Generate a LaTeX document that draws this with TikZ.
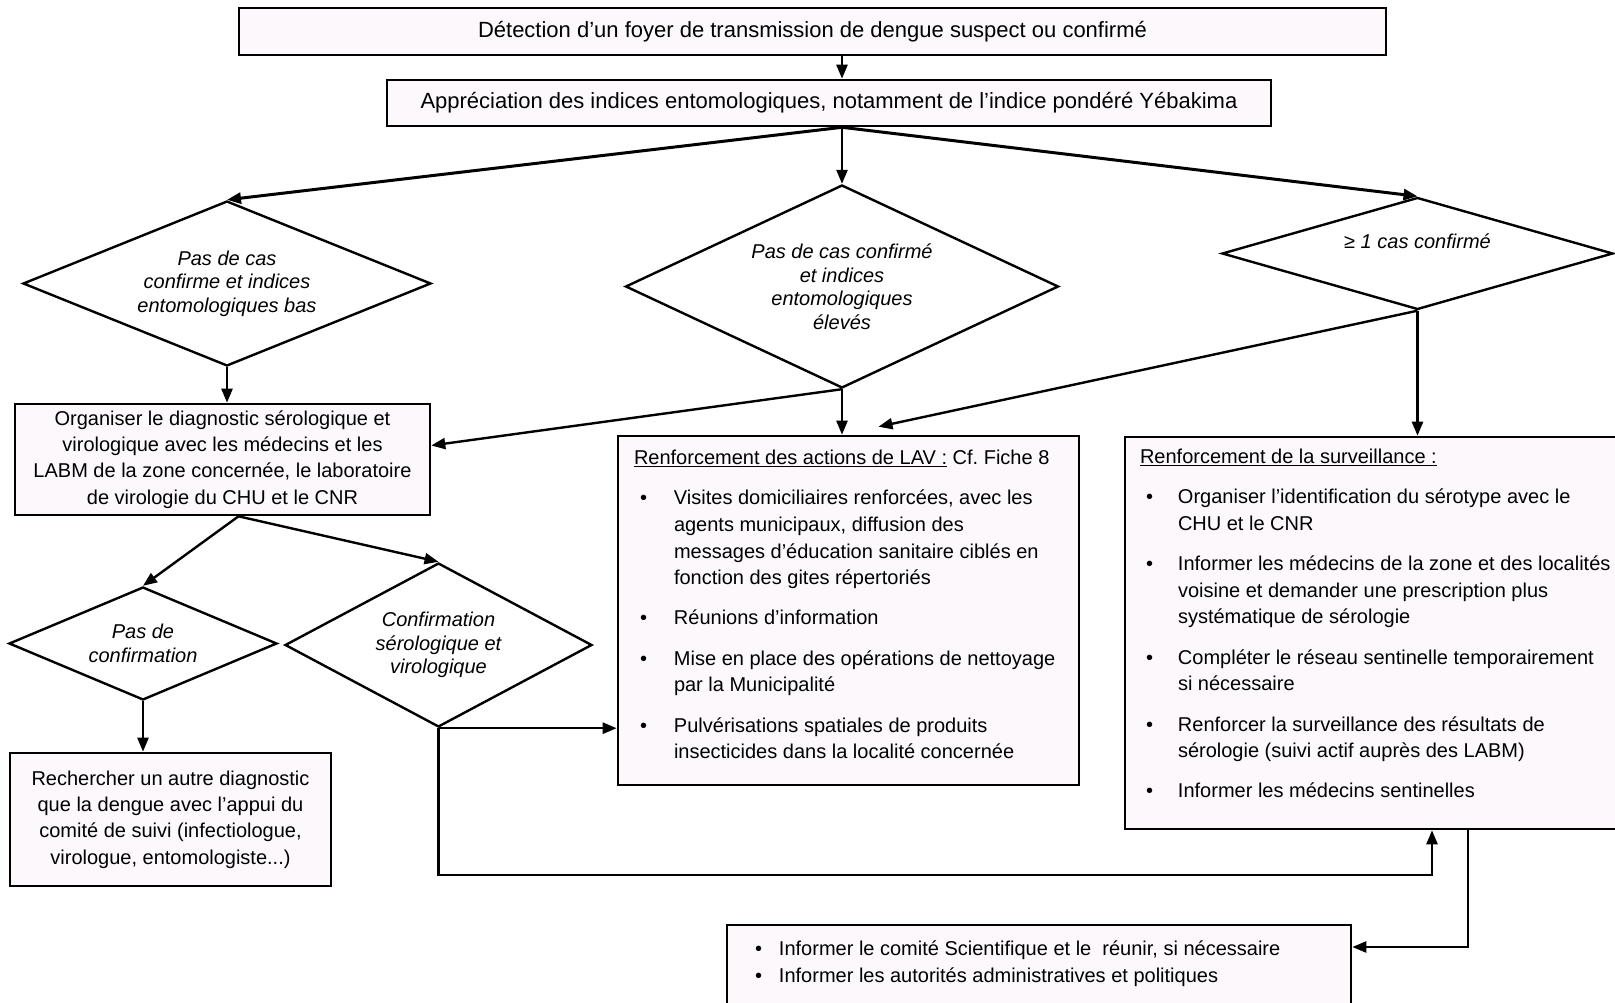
\documentclass[tikz,border=0pt]{standalone}
\usepackage{fontspec}
\setmainfont{Liberation Sans}
\usetikzlibrary{shapes.geometric,arrows.meta}
\definecolor{fondcadre}{RGB}{252,248,252}
% puce avec retrait
\newcommand{\puce}[2][40pt]{\hangindent=#1\hangafter=1\noindent\makebox[#1][l]{\hspace{6pt}\textbullet}#2\par}

\begin{document}
\begin{tikzpicture}[x=1pt, y=-1pt,
	cadre/.style={draw, line width=2.6pt, fill=fondcadre, inner sep=0pt, align=center,
		font=\fontsize{20pt}{26.3pt}\selectfont},
	losange/.style={diamond, aspect=2, draw, line width=2.4pt, fill=white, inner sep=0pt,
		align=center, font=\fontsize{20pt}{23.5pt}\selectfont\itshape},
	fleche/.style={line width=2.4pt, -{Triangle[length=14pt,width=11pt]}},
	trait/.style={line width=2.4pt}]
	\useasboundingbox (0,0) rectangle (1615,1003);

	% Haut
	\node[cadre, minimum width=1147pt, minimum height=47pt, font=\fontsize{22pt}{26pt}\selectfont]
		(detection) at (812.5,31.5) {Détection d'un foyer de transmission de dengue suspect ou confirmé};
	\node[cadre, minimum width=884pt, minimum height=46pt, font=\fontsize{22pt}{26pt}\selectfont]
		(indices) at (829,103) {Appréciation des indices entomologiques, notamment de l'indice pondéré Yébakima};

	% Losanges
	\node[losange, minimum width=408pt, minimum height=165pt] (bas) at (227,283.5)
		{Pas de cas\\ confirme et indices\\ entomologiques bas};
	\node[losange, minimum width=433pt, minimum height=203pt] (eleves) at (842,286.5)
		{Pas de cas confirmé\\ et indices\\ entomologiques\\ élevés};
	\node[losange, minimum width=391pt, minimum height=111pt, text depth=24pt] (confirme) at (1417.5,253.5)
		{≥ 1 cas confirmé};

	% Diagnostic
	\node[cadre, minimum width=415pt, minimum height=111pt] (diag) at (222.5,459.5)
		{Organiser le diagnostic sérologique et\\ virologique avec les médecins et les\\
		LABM de la zone concernée, le laboratoire\\ de virologie du CHU et le CNR};
	\node[losange, minimum width=268pt, minimum height=113pt] (pasconf) at (143,643.5)
		{Pas de\\ confirmation};
	\node[losange, minimum width=307pt, minimum height=164pt] (conf) at (438.5,645)
		{Confirmation\\ sérologique et\\ virologique};
	\node[cadre, minimum width=321pt, minimum height=133pt] (autre) at (170.5,819.5)
		{Rechercher un autre diagnostic\\ que la dengue avec l'appui du\\
		comité de suivi (infectiologue,\\ virologue, entomologiste...)};

	% LAV
	\node[cadre, inner xsep=16pt, inner ysep=14pt] (lav) at (848.5,610.5) {%
		\begin{minipage}[c][321pt][t]{429pt}
		\fontsize{20pt}{26.7pt}\selectfont\setlength{\parskip}{13.5pt}\raggedright
		\underline{Renforcement des actions de LAV :} Cf.\ Fiche 8\par
		\puce{Visites domiciliaires renforcées, avec les\newline agents municipaux, diffusion des\newline
			messages d'éducation sanitaire ciblés en\newline fonction des gites répertoriés}
		\puce{Réunions d'information}
		\puce{Mise en place des opérations de nettoyage\newline par la Municipalité}
		\puce{Pulvérisations spatiales de produits\newline insecticides dans la localité concernée}
		\end{minipage}};

	% Surveillance
	\node[cadre, inner xsep=15pt, inner ysep=12pt] (surv) at (1382.5,633) {%
		\begin{minipage}[c][368pt][t]{485pt}
		\fontsize{20pt}{26.7pt}\selectfont\setlength{\parskip}{13.5pt}\raggedright
		\underline{Renforcement de la surveillance :}\par
		\puce[38pt]{Organiser l'identification du sérotype avec le\newline CHU et le CNR}
		\puce[38pt]{Informer les médecins de la zone et des localités\newline voisine et demander une prescription plus\newline
			systématique de sérologie}
		\puce[38pt]{Compléter le réseau sentinelle temporairement\newline si nécessaire}
		\puce[38pt]{Renforcer la surveillance des résultats de\newline sérologie (suivi actif auprès des LABM)}
		\puce[38pt]{Informer les médecins sentinelles}
		\end{minipage}};

	% Comite
	\node[cadre, inner xsep=22pt, inner ysep=16pt] (comite) at (1039,970) {%
		\begin{minipage}[c][58pt][t]{580pt}
		\fontsize{20pt}{27pt}\selectfont\raggedright
		\puce[30pt]{Informer le comité Scientifique et le~ réunir, si nécessaire}
		\puce[30pt]{Informer les autorités administratives et politiques}
		\end{minipage}};

	\coordinate (retour) at (1432,875);
	\coordinate (sortie) at (1468,947);

	% Fleches
	\draw[fleche] (detection.south -| eleves.north) -- (indices.north -| eleves.north);
	\draw[fleche, line width=3pt] (indices.south -| eleves.north) -- (bas.north);
	\draw[fleche] (indices.south -| eleves.north) -- (eleves.north);
	\draw[fleche, line width=3pt] (indices.south -| eleves.north) -- (confirme.north);
	\draw[fleche] (bas.south) -- (bas.south |- diag.north);
	\draw[fleche] (eleves.south) -- ([yshift=14pt]diag.east);
	\draw[fleche] (eleves.south) -- (eleves.south |- lav.north);
	\draw[fleche] (confirme.south) -- ([xshift=30pt,yshift=8pt]lav.north);
	\draw[fleche] (confirme.south) -- (confirme.south |- surv.north);
	\draw[fleche] ([xshift=16pt]diag.south) -- (pasconf.north);
	\draw[fleche] ([xshift=16pt]diag.south) -- (conf.north);
	\draw[fleche] (pasconf.south) -- (pasconf.south |- autre.north);
	\draw[fleche] (conf.south) -- (conf.south -| lav.west);
	\draw[fleche] (conf.south) |- (retour) -- (retour |- surv.south);
	\draw[fleche] (sortie |- surv.south) -- (sortie) -- (sortie -| comite.east);
\end{tikzpicture}
\end{document}
